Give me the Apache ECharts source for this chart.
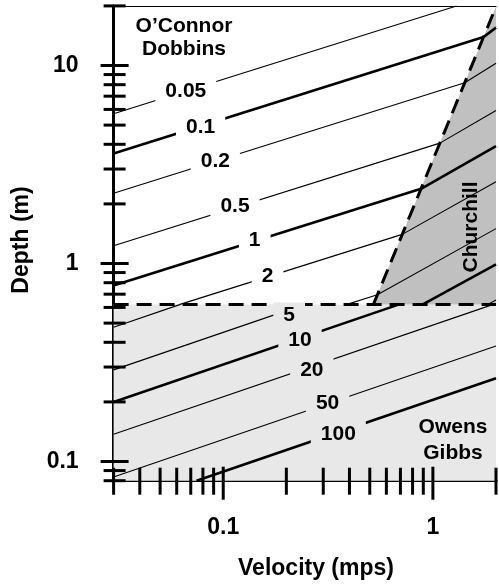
<!DOCTYPE html>
<html><head><meta charset="utf-8">
<script src="https://cdn.jsdelivr.net/npm/echarts@6/dist/echarts.min.js"></script>
<style>html,body{margin:0;padding:0;background:#fff}#c{width:499px;height:584px}</style>
</head><body><div id="c"></div>
<script>
// axis extents
const X_MIN = 0.03, X_MAX = 2, Y_MIN = 0.08, Y_MAX = 20;
const X_LABELS = [0.1, 1];
const Y_LABELS = [0.1, 1, 10];
const X_MAJOR_TICKS = [0.1, 1];
const X_MINOR_TICKS = [0.03,0.04,0.05,0.06,0.07,0.08,0.09,0.2,0.3,0.4,0.5,0.6,0.7,0.8,0.9,2];
const Y_MAJOR_TICKS = [0.1, 1, 10];
const Y_MINOR_TICKS = [0.08,0.09,0.2,0.3,0.4,0.5,0.6,0.7,0.8,0.9,2,3,4,5,6,7,8,9,20];
const BOLD_K = ['0.1', '1', '10', '100'];

// contour segments [K, [U,H] start, [U,H] end]  (U in m/s, H in m)
const OD_LINES = [
  ['0.05', [0.03, 5.70], [1.295, 20]],
  ['0.1',  [0.03, 3.59], [1.745, 13.92]],
  ['0.2',  [0.03, 2.263], [1.419, 8.18]],
  ['0.5',  [0.03, 1.228], [1.080, 4.055]],
  ['1',    [0.03, 0.774], [0.878, 2.385]],
  ['2',    [0.0617, 0.62], [0.714, 1.403]],
  ['5',    [0.386, 0.62], [0.5435, 0.695]]
];
const CH_LINES = [
  ['0.1', [1.745, 13.92], [2, 15.53]],
  ['0.2', [1.419, 8.18], [2, 10.26]],
  ['0.5', [1.080, 4.055], [2, 5.93]],
  ['1',   [0.878, 2.385], [2, 3.92]],
  ['2',   [0.714, 1.403], [2, 2.59]],
  ['5',   [0.5435, 0.695], [2, 1.50]],
  ['10',  [0.891, 0.62], [2, 0.99]],
  ['20',  [1.822, 0.62], [2, 0.654]]
];
const OG_LINES = [
  ['2',   [0.03, 0.4766], [0.062, 0.62]],
  ['5',   [0.03, 0.2903], [0.2435, 0.62]],
  ['10',  [0.03, 0.1996], [0.6855, 0.62]],
  ['20',  [0.03, 0.1373], [1.928, 0.62]],
  ['50',  [0.03, 0.0836], [2, 0.3828]],
  ['100', [0.0746, 0.08], [2, 0.2632]]
];
// region outlines
const SPLIT_DEPTH = 0.62;
const OG_REGION = [[0.03, 0.08], [2, 0.08], [2, 0.62], [0.03, 0.62]];
const CH_REGION = [[0.52, 0.62], [2, 19.8], [2, 20], [2, 0.62]];
const SPLIT_H = [[0.03, 0.62], [2, 0.62]];
const SPLIT_D = [[0.52, 0.62], [2, 19.8]];
// contour value labels [text, U, H]
const K_LABELS = [
  ['0.05', 0.0663, 7.43],
  ['0.1', 0.078, 4.89],
  ['0.2', 0.0917, 3.29],
  ['0.5', 0.1138, 1.95],
  ['1', 0.1413, 1.31],
  ['2', 0.1627, 0.862],
  ['5', 0.2063, 0.55],
  ['10', 0.2324, 0.41],
  ['20', 0.2646, 0.29],
  ['50', 0.3145, 0.197],
  ['100', 0.3541, 0.138]
];

const FAMILY = '"Liberation Sans", Arial, sans-serif';
const FONT = 'bold 21px ' + FAMILY;
const TITLE_FONT = 'bold 23px ' + FAMILY;
const LIGHT = '#e8e8e8', DARK = '#c0c0c0';

function polygonSeries(pts, color, z) {
  return {
    type: 'custom', silent: true, z: z, data: pts,
    renderItem: function (params, api) {
      if (params.dataIndex !== 0) return null;
      return { type: 'polygon', shape: { points: pts.map(function (p) { return api.coord(p); }) }, style: { fill: color } };
    }
  };
}
function lineSeries(seg) {
  const bold = BOLD_K.indexOf(seg[0]) >= 0;
  return {
    type: 'line', silent: true, z: 3, symbol: 'none', data: [seg[1], seg[2]],
    lineStyle: { color: '#000', width: bold ? 2.6 : 1.1 }
  };
}
function tickSeries(vals, horizontal, a, b) {
  return {
    type: 'custom', silent: true, z: 10, clip: false,
    data: vals.map(function (v) { return horizontal ? [v, Y_MIN] : [X_MIN, v]; }),
    renderItem: function (params, api) {
      const p = api.coord([api.value(0), api.value(1)]);
      const shape = horizontal
        ? { x1: p[0], y1: p[1] - a, x2: p[0], y2: p[1] + b }
        : { x1: p[0] - a, y1: p[1], x2: p[0] + b, y2: p[1] };
      return { type: 'line', shape: shape, style: { stroke: '#000', lineWidth: 3 } };
    }
  };
}
function labelFmt(list) {
  return function (v) {
    for (let i = 0; i < list.length; i++) if (Math.abs(list[i] - v) / list[i] < 1e-6) return String(list[i]);
    return '';
  };
}

const series = [];
series.push(polygonSeries(OG_REGION, LIGHT, 1));
series.push(polygonSeries(CH_REGION, DARK, 1));
OD_LINES.concat(CH_LINES, OG_LINES).forEach(function (s) { series.push(lineSeries(s)); });
[SPLIT_H, SPLIT_D].forEach(function (d) {
  series.push({ type: 'line', silent: true, z: 5, symbol: 'none', data: d,
    lineStyle: { color: '#000', width: 3, type: [15, 8] } });
});
series.push({
  type: 'custom', silent: true, z: 6, data: K_LABELS.map(function (l) { return [l[1], l[2]]; }),
  renderItem: function (params, api) {
    const l = K_LABELS[params.dataIndex];
    const p = api.coord([l[1], l[2]]);
    return { type: 'text', x: p[0], y: p[1], style: {
      text: l[0], font: FONT, fill: '#000', align: 'center', verticalAlign: 'middle',
      backgroundColor: l[2] < SPLIT_DEPTH ? LIGHT : '#fff', padding: [2, 10] } };
  }
});
series.push(tickSeries(X_MINOR_TICKS, true, 13, 14));
series.push(tickSeries(X_MAJOR_TICKS, true, 14, 19));
series.push(tickSeries(Y_MINOR_TICKS, false, 10, 12));
series.push(tickSeries(Y_MAJOR_TICKS, false, 13, 15));

const chart = echarts.init(document.getElementById('c'), null, { renderer: 'canvas' });
chart.setOption({
  animation: false,
  backgroundColor: '#fff',
  grid: { left: 113.6, top: 5.9, width: 388.7, height: 474.8, containLabel: false },
  xAxis: [{
    type: 'log', logBase: 10, min: X_MIN, max: X_MAX,
    axisLine: { onZero: false, lineStyle: { color: '#000', width: 3 } },
    axisTick: { show: false }, splitLine: { show: false }, minorTick: { show: false },
    axisLabel: { formatter: labelFmt(X_LABELS), color: '#000', fontSize: 23, fontWeight: 'bold',
      fontFamily: FAMILY, margin: 35 }
  }, {
    type: 'log', logBase: 10, min: X_MIN, max: X_MAX, position: 'top',
    axisLine: { onZero: false, lineStyle: { color: '#000', width: 1 } },
    axisTick: { show: false }, splitLine: { show: false }, axisLabel: { show: false }
  }],
  yAxis: {
    type: 'log', logBase: 10, min: Y_MIN, max: Y_MAX,
    axisLine: { onZero: false, lineStyle: { color: '#000', width: 3 } },
    axisTick: { show: false }, splitLine: { show: false }, minorTick: { show: false },
    axisLabel: { formatter: labelFmt(Y_LABELS), color: '#000', fontSize: 23, fontWeight: 'bold',
      fontFamily: FAMILY, margin: 35 }
  },
  graphic: [
    { type: 'text', x: 22, y: 240, rotation: Math.PI / 2, z: 20,
      style: { text: 'Depth (m)', font: TITLE_FONT, fill: '#000', align: 'center', verticalAlign: 'middle', textAlign: 'center', textVerticalAlign: 'middle' } },
    { type: 'text', x: 316, y: 569, z: 20,
      style: { text: 'Velocity (mps)', font: TITLE_FONT, fill: '#000', align: 'center', verticalAlign: 'middle', textAlign: 'center', textVerticalAlign: 'middle' } },
    { type: 'text', x: 184, y: 38, z: 20,
      style: { text: 'O\u2019Connor\nDobbins', font: FONT, lineHeight: 23, fill: '#000', align: 'center', verticalAlign: 'middle', textAlign: 'center', textVerticalAlign: 'middle' } },
    { type: 'text', x: 453, y: 440, z: 20,
      style: { text: 'Owens\nGibbs', font: FONT, lineHeight: 26, fill: '#000', align: 'center', verticalAlign: 'middle', textAlign: 'center', textVerticalAlign: 'middle' } },
    { type: 'text', x: 471, y: 227, rotation: Math.PI / 2, z: 20,
      style: { text: 'Churchill', font: FONT, fill: '#000', align: 'center', verticalAlign: 'middle', textAlign: 'center', textVerticalAlign: 'middle' } }
  ],
  series: series
});
</script>
</body></html>
